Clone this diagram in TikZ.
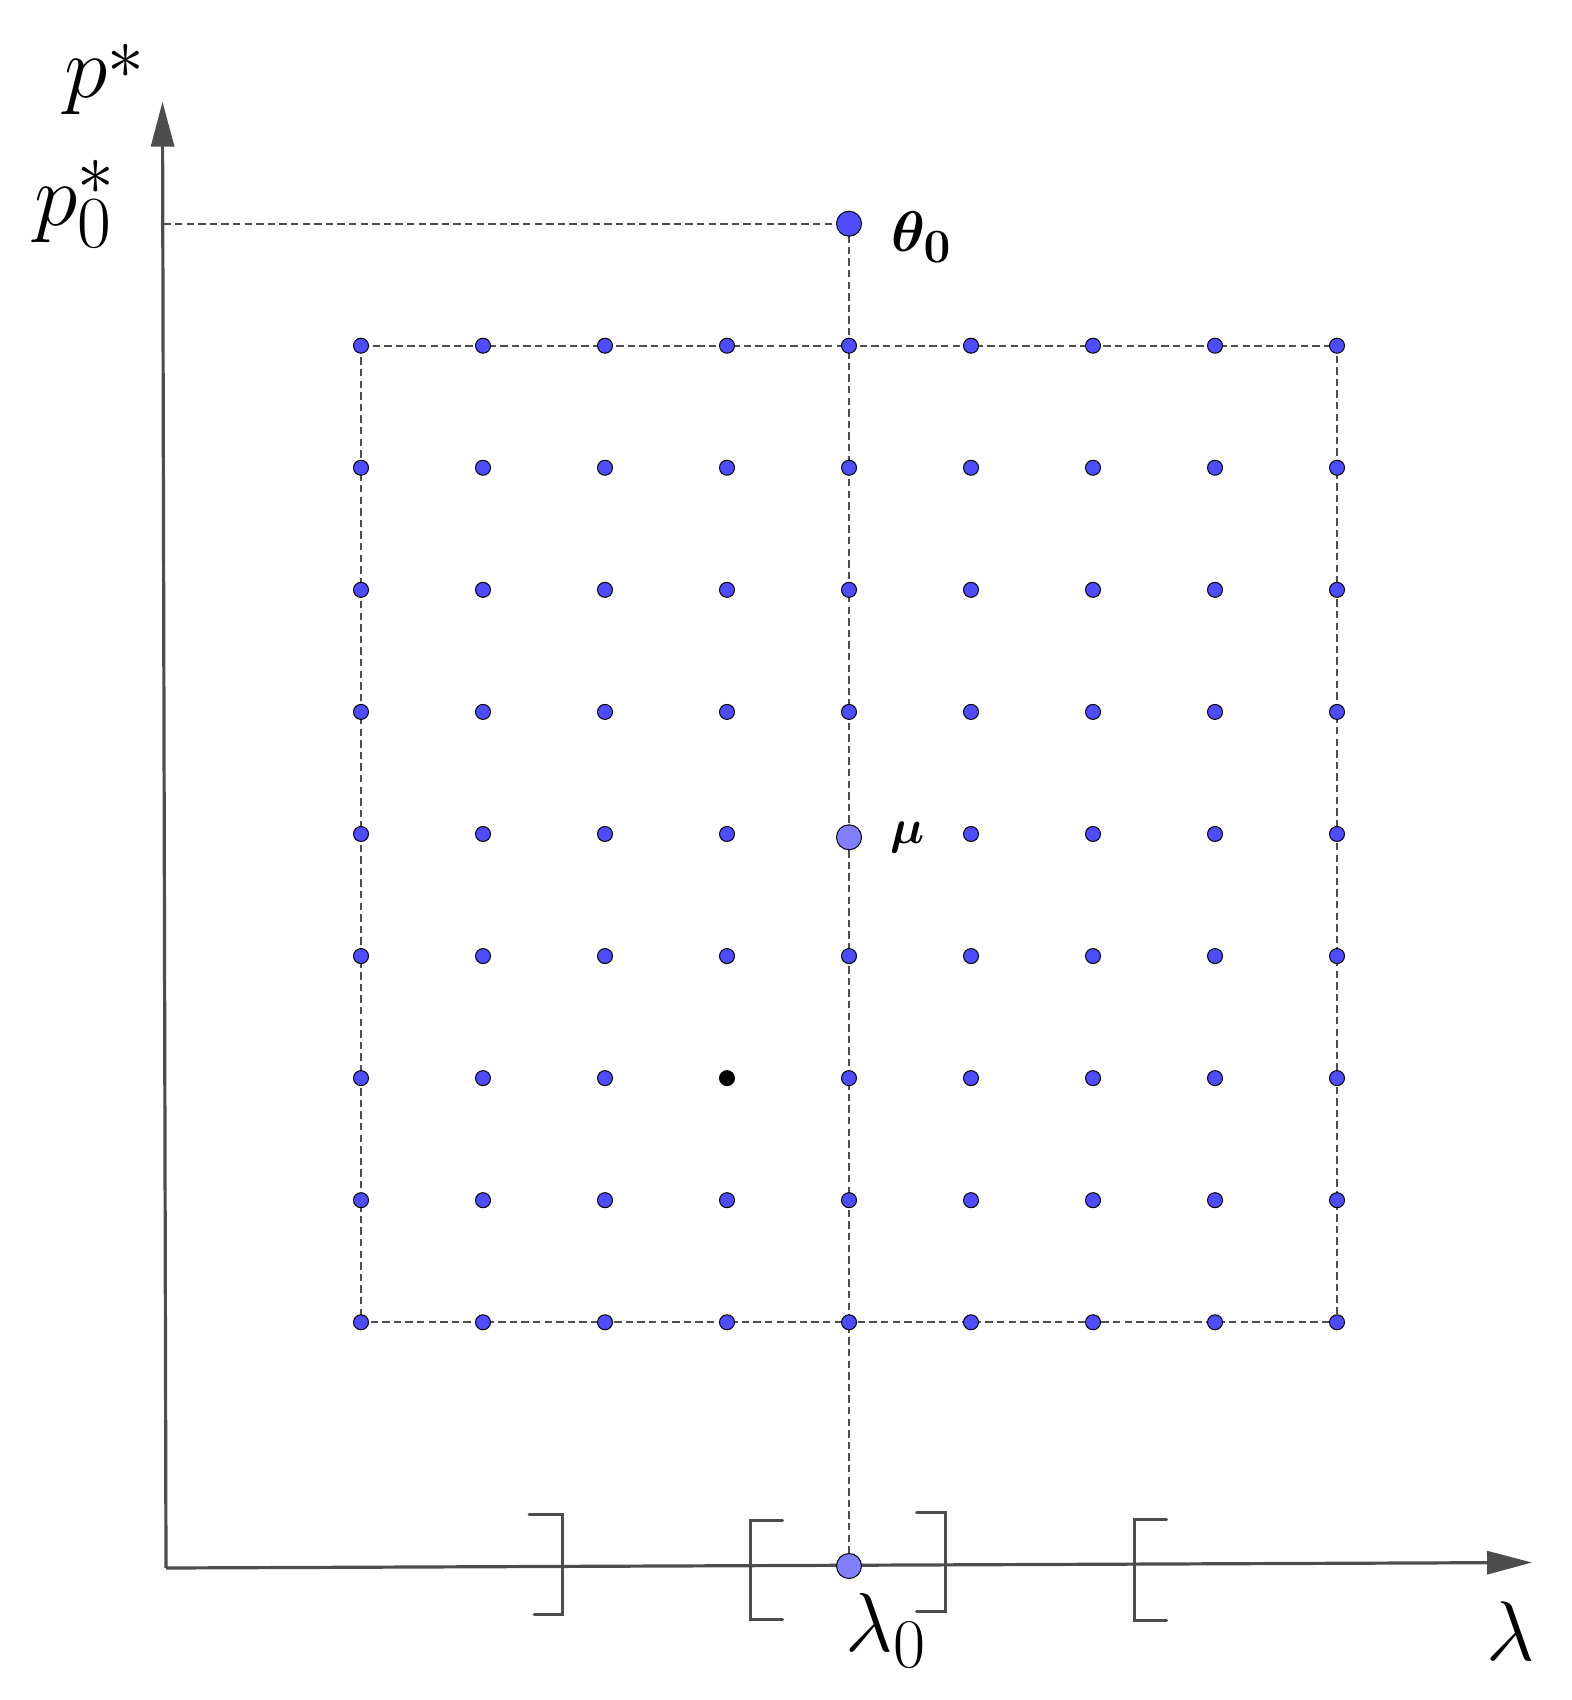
\documentclass[tikz,border=0pt]{standalone}
\usepackage{graphicx}
\usepackage{bm}
\usetikzlibrary{arrows.meta,backgrounds}
\definecolor{dotblue}{RGB}{77,77,255}
\definecolor{lightblue}{RGB}{128,128,255}
\definecolor{axisgray}{RGB}{77,77,77}
\newcommand{\biglbl}[2]{{\fontsize{24.88}{30}\selectfont\scalebox{#1}{$#2$}}}
\newcommand{\lowstar}{{\raisebox{-3.5pt}{$\scriptstyle *$}}}
\begin{document}
\begin{tikzpicture}[x=0.5pt,y=-0.5pt,
  gdot/.style={circle,draw=black,line width=0.5pt,fill=dotblue,inner sep=0pt,minimum size=7.5pt},
  blackdot/.style={circle,fill=black,inner sep=0pt,minimum size=8pt},
  bigdot/.style={circle,draw=black,line width=0.5pt,fill=#1,inner sep=0pt,minimum size=12.5pt},
  guide/.style={draw=axisgray,line width=1pt,dash pattern=on 3.7pt off 2.1pt},
  axis/.style={draw=axisgray,line width=1.6pt,-{Triangle[length=22.5pt,width=11.5pt]},color=axisgray},
  brk/.style={draw=axisgray,line width=1.5pt,line cap=round},
  lbl/.style={inner sep=0pt,anchor=base west}]
\useasboundingbox (0,0) rectangle (1571,1700);

% grid of dots
\foreach \i in {0,...,8}{\foreach \j in {0,...,8}{%
  \ifnum\i\j=44 \else
    \ifnum\i\j=36
      \node[blackdot] (g\i\j) at ({361+122*\i},{345.7+122.07*\j}) {};
    \else
      \node[gdot] (g\i\j) at ({361+122*\i},{345.7+122.07*\j}) {};
    \fi
  \fi}}

% special points
\node[bigdot=dotblue] (th) at (849,223.7) {};
\node[bigdot=lightblue] (mu) at (849,837.3) {};
\node[bigdot=lightblue] (l0) at (849,1566) {};

% axes
\coordinate (O) at (166,1568);
\coordinate (ytip) at (162.5,101.7);
\coordinate (xtip) at (1532,1562.5);
\coordinate (p0) at (163.3,223.7);

\begin{scope}[on background layer]
  \draw[guide] (g00.center) -- (g80.center) -- (g88.center) -- (g08.center) -- cycle;
  \draw[guide] (p0) -- (th.center);
  \draw[guide] (th.center) -- (l0.center);
  \draw[axis] (O) -- (ytip);
  \draw[axis] (O) -- (xtip);
\end{scope}

% interval brackets
\draw[brk] (529,1514) -- (562.7,1514) -- (562.7,1614) -- (534,1614);
\draw[brk] (782.7,1520.7) -- (750.7,1520.7) -- (750.7,1619) -- (782.7,1619);
\draw[brk] (916.7,1512.3) -- (945.7,1512.3) -- (945.7,1611) -- (916.7,1611);
\draw[brk] (1166.7,1519.3) -- (1134.7,1519.3) -- (1134.7,1620.7) -- (1166.7,1620.7);

% labels
\node[lbl] (lp) at (64,98) {\biglbl{1.77}{p^{\lowstar}}};
\node[lbl] (lp0) at (34,226) {\biglbl{1.77}{p_0^*}};
\node[lbl] (lth) at (891,251.7) {\biglbl{1.15}{\bm{\theta_0}}};
\node[lbl] (lmu) at (890,843.7) {\biglbl{0.97}{\bm{\mu}}};
\node[lbl] (llam0) at (845,1651.7) {\biglbl{1.68}{\lambda_0}};
\node[lbl] (llam) at (1486,1660.7) {\biglbl{1.7}{\lambda}};
\end{tikzpicture}
\end{document}
